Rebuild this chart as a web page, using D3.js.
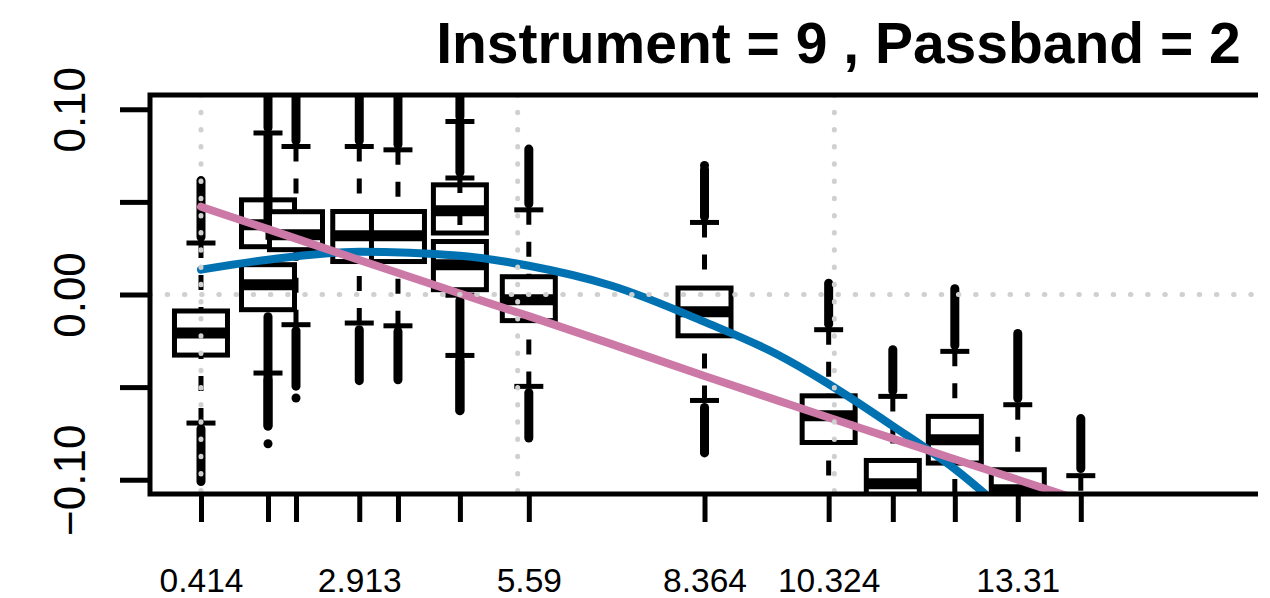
<!DOCTYPE html>
<html>
<head>
<meta charset="utf-8">
<script src="https://cdn.jsdelivr.net/npm/d3@7"></script>
<style>
    html, body { margin: 0; padding: 0; background: #ffffff; }
    svg { display: block; font-family: "Liberation Sans", Helvetica, Arial, sans-serif; }
</style>
</head>
<body>
<div id="chart"></div>
<script>
"use strict";

const chartTitle = "Instrument = 9 , Passband = 2";

// x ticks (R dropped the labels that would overlap)
const xTicks = [0.414, 1.472, 1.914, 2.913, 3.524, 4.502, 5.59, 8.364, 10.324, 11.337, 12.316, 13.31, 14.305];
const xTickLabels = ["0.414", "", "", "2.913", "", "", "5.59", "8.364", "10.324", "", "", "13.31", ""];

const yTicks = [-0.10, -0.05, 0.00, 0.05, 0.10];
const yTickLabels = ["\u22120.10", "", "0.00", "", "0.10"];

// one entry per box; two boxes share 1.472 and two share 4.502
const boxPos      = [0.414, 1.472, 1.472, 1.914, 2.913, 3.524, 4.502, 4.502, 5.59, 8.364, 10.324, 11.337, 12.316, 13.31, 14.305];
const boxQ1       = [-0.0327, 0.0258, -0.0082, 0.0242, 0.0178, 0.0178, 0.0332, 0.0026, -0.0141, -0.0223, -0.0799, -0.118, -0.091, -0.125, -0.135];
const boxMedian   = [-0.0208, 0.0377, 0.0053, 0.0323, 0.0317, 0.0317, 0.0452, 0.0161, -0.0028, -0.0093, -0.0655, -0.1022, -0.0784, -0.1054, -0.125];
const boxQ3       = [-0.0089, 0.0511, 0.0161, 0.0447, 0.0448, 0.0448, 0.0592, 0.0286, 0.0096, 0.0035, -0.0547, -0.0896, -0.0658, -0.0946, -0.118];
const whiskerLow  = [-0.0694, 0.010, -0.0424, -0.0163, -0.0154, -0.0169, -0.0004, -0.0329, -0.0496, -0.0572, -0.115, -0.135, -0.125, -0.14, -0.15];
const whiskerHigh = [0.0278, 0.0872, 0.0377, 0.0799, 0.0799, 0.0781, 0.0934, 0.0629, 0.0457, 0.0389, -0.019, -0.055, -0.0307, -0.0595, -0.0978];

// runs of dense outliers: [nearest point, farthest point], null when none
const outlierHigh = [
    [0.031, 0.0615], [0.090, 0.125], [0.041, 0.086], [0.083, 0.125], [0.083, 0.125],
    [0.081, 0.125], [0.096, 0.125], [0.066, 0.092], [0.049, 0.0785], [0.042, 0.0675],
    [-0.016, 0.0061], [-0.052, -0.0298], [-0.0275, 0.0031], [-0.056, -0.021], [-0.094, -0.067]
];
const outlierLow = [
    [-0.0725, -0.101], [-0.012, -0.071], [-0.046, -0.071], [-0.0195, -0.0495], [-0.019, -0.0465],
    [-0.020, -0.046], [-0.003, -0.0627], [-0.036, -0.0627], [-0.053, -0.0775], [-0.061, -0.0855],
    null, null, null, null, null
];
// single outliers standing apart from the runs
const outlierSingleX = [1.472, 1.914, 8.364];
const outlierSingleY = [-0.0806, -0.0559, 0.0697];

// dotted reference grid
const gridX = [0.414, 5.414, 10.414];
const gridY = [0];

// fitted curves
const fitX     = [0.414, 1.472, 2.913, 4.502, 5.59, 6.9, 8.364, 9.5, 10.324, 11.337, 12.316, 13.31, 14.3];
const blueFit  = [0.0134, 0.0188, 0.0231, 0.0209, 0.0155, 0.0047, -0.0148, -0.0321, -0.0483, -0.0710, -0.0942, -0.123, -0.153];
const pinkFit  = [0.0474, 0.0353, 0.0186, 0.0005, -0.0117, -0.0268, -0.0440, -0.0570, -0.0664, -0.0778, -0.0889, -0.1000, -0.1111];

const width = 1270;
const height = 598;

// Plot region (the right edge of the panel falls outside the picture)
const plotLeft = 150, plotTop = 95, plotBottom = 494, plotRight = 1527, frameRight = 1258;

const svg = d3.select("#chart")
    .append("svg")
    .attr("width", width)
    .attr("height", height);

// Scales
const x = d3.scaleLinear().domain([-0.391, 21.35]).range([plotLeft, plotRight]);
const y = d3.scaleLinear().domain([-0.1077, 0.1077]).range([plotBottom, plotTop]);

svg.append("defs")
    .append("clipPath")
    .attr("id", "plot-clip")
    .append("rect")
    .attr("x", plotLeft)
    .attr("y", plotTop)
    .attr("width", frameRight - plotLeft)
    .attr("height", plotBottom - plotTop);

const plot = svg.append("g").attr("clip-path", "url(#plot-clip)");

const boxHalf = 26.5;
const stapleHalf = 14.5;
const lineW = 5;

// Boxes, drawn in order so later boxes sit on top of earlier ones
boxPos.forEach((pos, i) => {
    const cx = x(pos);
    const g = plot.append("g").attr("class", "box");

    // outlier runs (points overlap into a solid column)
    [outlierHigh[i], outlierLow[i]].forEach(run => {
        if (!run) return;
        g.append("line")
            .attr("x1", cx).attr("x2", cx)
            .attr("y1", y(run[0])).attr("y2", y(run[1]))
            .attr("stroke", "#000")
            .attr("stroke-width", 9)
            .attr("stroke-linecap", "round");
    });

    // whiskers run from the end back to the hinge, like bxp()
    [[whiskerHigh[i], boxQ3[i]], [whiskerLow[i], boxQ1[i]]].forEach(([end, hinge]) => {
        g.append("line")
            .attr("x1", cx).attr("x2", cx)
            .attr("y1", y(end)).attr("y2", y(hinge))
            .attr("stroke", "#000")
            .attr("stroke-width", lineW)
            .attr("stroke-dasharray", "15,17");

        g.append("line")
            .attr("x1", cx - stapleHalf).attr("x2", cx + stapleHalf)
            .attr("y1", y(end)).attr("y2", y(end))
            .attr("stroke", "#000")
            .attr("stroke-width", lineW);
    });

    g.append("rect")
        .attr("x", cx - boxHalf)
        .attr("y", y(boxQ3[i]))
        .attr("width", boxHalf * 2)
        .attr("height", y(boxQ1[i]) - y(boxQ3[i]))
        .attr("fill", "#ffffff")
        .attr("stroke", "#000")
        .attr("stroke-width", lineW);

    g.append("line")
        .attr("x1", cx - boxHalf).attr("x2", cx + boxHalf)
        .attr("y1", y(boxMedian[i])).attr("y2", y(boxMedian[i]))
        .attr("stroke", "#000")
        .attr("stroke-width", 11);
});

plot.selectAll("circle.single")
    .data(outlierSingleX)
    .enter()
    .append("circle")
    .attr("class", "single")
    .attr("cx", d => x(d))
    .attr("cy", (d, i) => y(outlierSingleY[i]))
    .attr("r", 4.5)
    .attr("fill", "#000");

// Fitted curves
const fitLine = values => d3.line()
    .x((d, i) => x(fitX[i]))
    .y(d => y(d))
    .curve(d3.curveMonotoneX)(values);

plot.append("path")
    .attr("d", fitLine(blueFit))
    .attr("fill", "none")
    .attr("stroke", "#0072B2")
    .attr("stroke-width", 8)
    .attr("stroke-linecap", "round");

plot.append("path")
    .attr("d", fitLine(pinkFit))
    .attr("fill", "none")
    .attr("stroke", "#CC79A7")
    .attr("stroke-width", 8)
    .attr("stroke-linecap", "round");

// Dotted grid sits on top of everything inside the panel
const gridStyle = sel => sel
    .attr("stroke", "#d0d0d0")
    .attr("stroke-width", 5)
    .attr("stroke-linecap", "round")
    .attr("stroke-dasharray", "0.5,16.7");

plot.selectAll("line.gridx")
    .data(gridX)
    .enter()
    .append("line")
    .attr("class", "gridx")
    .attr("x1", d => x(d)).attr("x2", d => x(d))
    .attr("y1", plotTop).attr("y2", plotBottom)
    .call(gridStyle);

plot.selectAll("line.gridy")
    .data(gridY)
    .enter()
    .append("line")
    .attr("class", "gridy")
    .attr("x1", plotLeft).attr("x2", frameRight)
    .attr("y1", d => y(d)).attr("y2", d => y(d))
    .call(gridStyle);

// Frame (left, top, bottom)
svg.append("path")
    .attr("d", `M${frameRight},${plotTop}H${plotLeft}V${plotBottom}H${frameRight}`)
    .attr("fill", "none")
    .attr("stroke", "#000")
    .attr("stroke-width", lineW);

// Y axis
const yAxis = d3.axisLeft(y)
    .tickValues(yTicks)
    .tickFormat((d, i) => yTickLabels[i])
    .tickSize(30)
    .tickSizeOuter(0);

const yAxisGroup = svg.append("g")
    .attr("transform", `translate(${plotLeft},0)`)
    .call(yAxis);

yAxisGroup.select(".domain").remove();
yAxisGroup.selectAll(".tick line")
    .attr("stroke", "#000")
    .attr("stroke-width", lineW);
yAxisGroup.selectAll(".tick text")
    .attr("transform", "rotate(-90)")
    .attr("x", 0)
    .attr("y", -65)
    .attr("dy", 0)
    .attr("text-anchor", "middle")
    .attr("fill", "#000")
    .style("font-size", "44px")
    .style("font-family", "\"Liberation Sans\", Helvetica, Arial, sans-serif");

// X axis
const xAxis = d3.axisBottom(x)
    .tickValues(xTicks)
    .tickFormat((d, i) => xTickLabels[i])
    .tickSize(28)
    .tickSizeOuter(0);

const xAxisGroup = svg.append("g")
    .attr("transform", `translate(0,${plotBottom})`)
    .call(xAxis);

xAxisGroup.select(".domain").remove();
xAxisGroup.selectAll(".tick line")
    .attr("stroke", "#000")
    .attr("stroke-width", lineW);
xAxisGroup.selectAll(".tick text")
    .attr("y", 98)
    .attr("dy", 0)
    .attr("fill", "#000")
    .style("font-size", "33.5px")
    .style("font-family", "\"Liberation Sans\", Helvetica, Arial, sans-serif");

// Title, centred over the whole panel
svg.append("text")
    .attr("x", (plotLeft + plotRight) / 2)
    .attr("y", 63)
    .attr("text-anchor", "middle")
    .style("font-size", "57px")
    .style("font-weight", "bold")
    .text(chartTitle);
</script>
</body>
</html>
